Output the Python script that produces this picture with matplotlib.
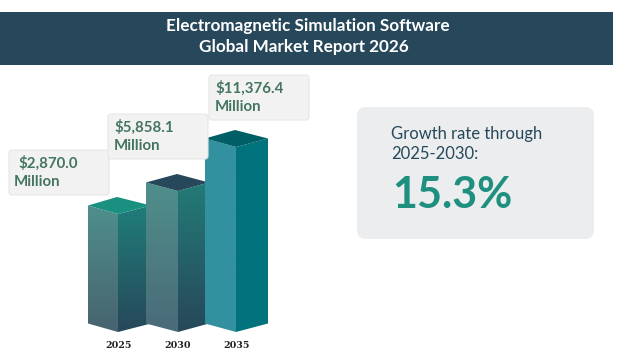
import numpy as np
import matplotlib
matplotlib.use('Agg')
import matplotlib.pyplot as plt
from matplotlib.colors import LinearSegmentedColormap
from matplotlib.patches import FancyBboxPatch, Polygon, Rectangle

years = ['2025', '2030', '2035']
values = ['$2,870.0', '$5,858.1', '$11,376.4']
# drawn heights, the bars are not to scale with the values
heights = [118, 141, 185]
growth = '15.3%'

plt.rcParams['font.family'] = ['Lato', 'DejaVu Sans']

fig = plt.figure(figsize=(6.38, 3.57), dpi=100)
ax = fig.add_axes([0, 0, 1, 1])


def gradient(verts, c1, c2, zorder):
    # fill a polygon with a top to bottom gradient
    xs = [v[0] for v in verts]
    ys = [v[1] for v in verts]
    cmap = LinearSegmentedColormap.from_list('g', [c1, c2])
    g = np.linspace(0, 1, 128).reshape(-1, 1)
    im = ax.imshow(g, cmap=cmap, extent=(min(xs), max(xs), max(ys), min(ys)),
                   aspect='auto', zorder=zorder, interpolation='bilinear')
    poly = Polygon(verts, closed=True, transform=ax.transData, fc='none', ec='none')
    ax.add_patch(poly)
    im.set_clip_path(poly)


def bar3d(xl, xm, xr, h, cols, zorder):
    base = 332
    front = base - h
    side = 8.5
    gradient([(xl, front - side), (xm, front), (xm, base), (xl, base - side)],
             cols[0], cols[1], zorder)
    gradient([(xm, front), (xr, front - side), (xr, base - side), (xm, base)],
             cols[2], cols[3], zorder)
    ax.add_patch(Polygon([(xl, front - side), (xm - 1, front - 17), (xr, front - side), (xm, front)],
                         closed=True, fc=cols[4], ec='none', zorder=zorder))


def label_box(x, y, w, h, fc, ec, r):
    ax.add_patch(FancyBboxPatch((x + r, y + r), w - 2 * r, h - 2 * r,
                                boxstyle='round,pad=%s,rounding_size=%s' % (r, r),
                                fc=fc, ec=ec, lw=0.8, zorder=10))


# header
ax.add_patch(Rectangle((0, 12), 613, 53, fc='#27485a', ec='none'))
ax.text(308, 26, 'Electromagnetic Simulation Software', color='white', fontsize=12.3,
        fontweight='bold', ha='center', va='center')
ax.text(304, 47, 'Global Market Report 2026', color='white', fontsize=12.3,
        fontweight='bold', ha='center', va='center')

# bars
bar_x = [(88, 118, 151), (146, 178, 209), (205, 236, 268)]
bar_cols = [('#4f8f8c', '#47636f', '#1f7d7a', '#27485a', '#1a9080'),
            ('#4f8f8c', '#4a6b78', '#237b78', '#27485a', '#27485a'),
            ('#33919f', '#33919f', '#00737d', '#00737d', '#005f66')]
for i in range(3):
    bar3d(bar_x[i][0], bar_x[i][1], bar_x[i][2], heights[i], bar_cols[i], 3 + i)
    ax.text(bar_x[i][1], 345, years[i], color='#222222', fontsize=6.8, fontweight='bold',
            ha='center', va='center', family=['DejaVu Serif'])

# value labels
box_pos = [(9, 150), (108, 114), (209, 75)]
text_x = [18, 114, 215]
for i in range(3):
    label_box(box_pos[i][0], box_pos[i][1], 100, 45, '#f2f2f2', '#e6e6e6', 3)
    ax.text(text_x[i], box_pos[i][1] + 13, values[i], color='#44755f', fontsize=10.8,
            fontweight='bold', ha='left', va='center', zorder=11)
    ax.text(box_pos[i][0] + 5 if i == 0 else text_x[i], box_pos[i][1] + 32, 'Million',
            color='#44755f', fontsize=10.8, fontweight='bold', ha='left', va='center', zorder=11)

# growth card
label_box(357, 107, 237, 132, '#ebedef', 'none', 9)
ax.text(391, 134, 'Growth rate through', color='#27485a', fontsize=12, ha='left', va='center', zorder=11)
ax.text(391, 154, '2025-2030:', color='#27485a', fontsize=12, ha='left', va='center', zorder=11)
ax.text(392, 195, growth, color='#1f8f80', fontsize=31, fontweight='bold', ha='left', va='center', zorder=11)

ax.set_xlim(0, 638)
ax.set_ylim(357, 0)
ax.axis('off')
fig.savefig('out.png', dpi=100)
